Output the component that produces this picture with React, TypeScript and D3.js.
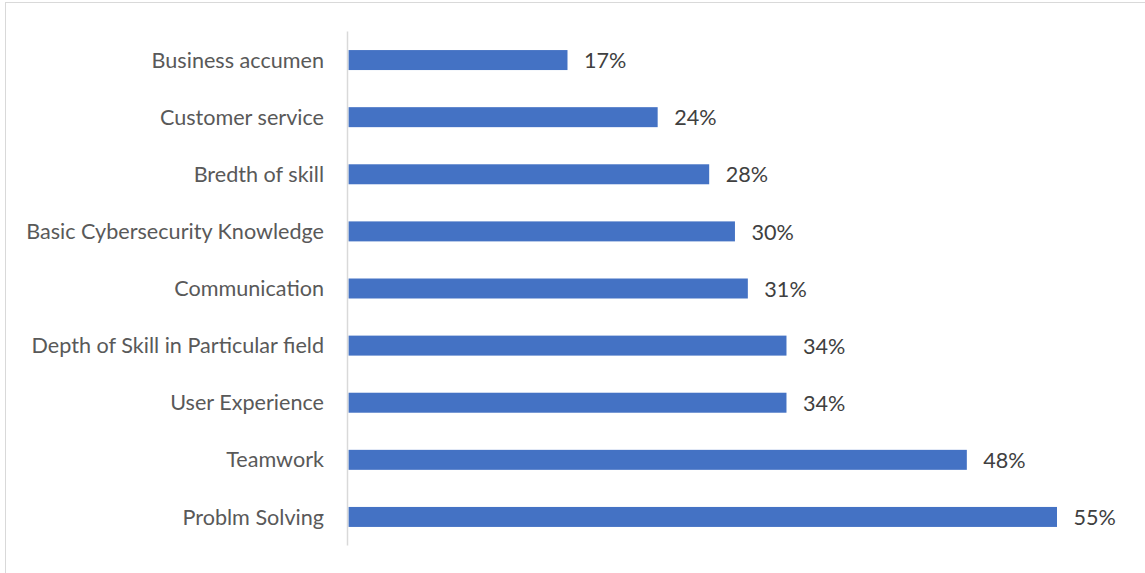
import React from "react";
import * as d3 from "d3";

const categories = [
  "Business accumen",
  "Customer service",
  "Bredth of skill",
  "Basic Cybersecurity Knowledge",
  "Communication",
  "Depth of Skill in Particular field",
  "User Experience",
  "Teamwork",
  "Problm Solving",
];
const values = [17, 24, 28, 30, 31, 34, 34, 48, 55];

const W = 1145;
const H = 573;

export default function App() {
  const x = d3.scaleLinear().domain([0, 55]).range([348.5, 1057]);
  const y = d3
    .scaleBand<string>()
    .domain(categories)
    .range([31.5, 545.5])
    .paddingInner(0.65)
    .paddingOuter(0.325);
  const font = "Lato, 'Open Sans', sans-serif";
  return (
    <div style={{ position: "absolute", left: 0, top: 0 }}>
      <svg width={W} height={H} style={{ display: "block" }}>
        <rect x={0} y={0} width={W} height={H} fill="#ffffff" />
        <rect x={5.5} y={2.5} width={W + 10} height={H + 10} fill="none" stroke="#d9d9d9" strokeWidth={1} />
        {categories.map((c, i) => (
          <g key={c}>
            <rect
              x={x(0)}
              y={y(c)!}
              width={x(values[i]) - x(0)}
              height={y.bandwidth()}
              fill="#4472c4"
            />
            <text
              x={324}
              y={y(c)! + y.bandwidth() / 2}
              dy="0.35em"
              textAnchor="end"
              fontFamily={font}
              fontSize={21.6}
              fill="#595959"
            >
              {c}
            </text>
            <text
              x={x(values[i]) + 16.5}
              y={y(c)! + y.bandwidth() / 2}
              dy="0.38em"
              textAnchor="start"
              fontFamily={font}
              fontSize={21.6}
              fill="#404040"
            >
              {d3.format(".0%")(values[i] / 100)}
            </text>
          </g>
        ))}
        <line x1={347.5} x2={347.5} y1={31.5} y2={545.5} stroke="#d9d9d9" strokeWidth={1.5} />
      </svg>
    </div>
  );
}
